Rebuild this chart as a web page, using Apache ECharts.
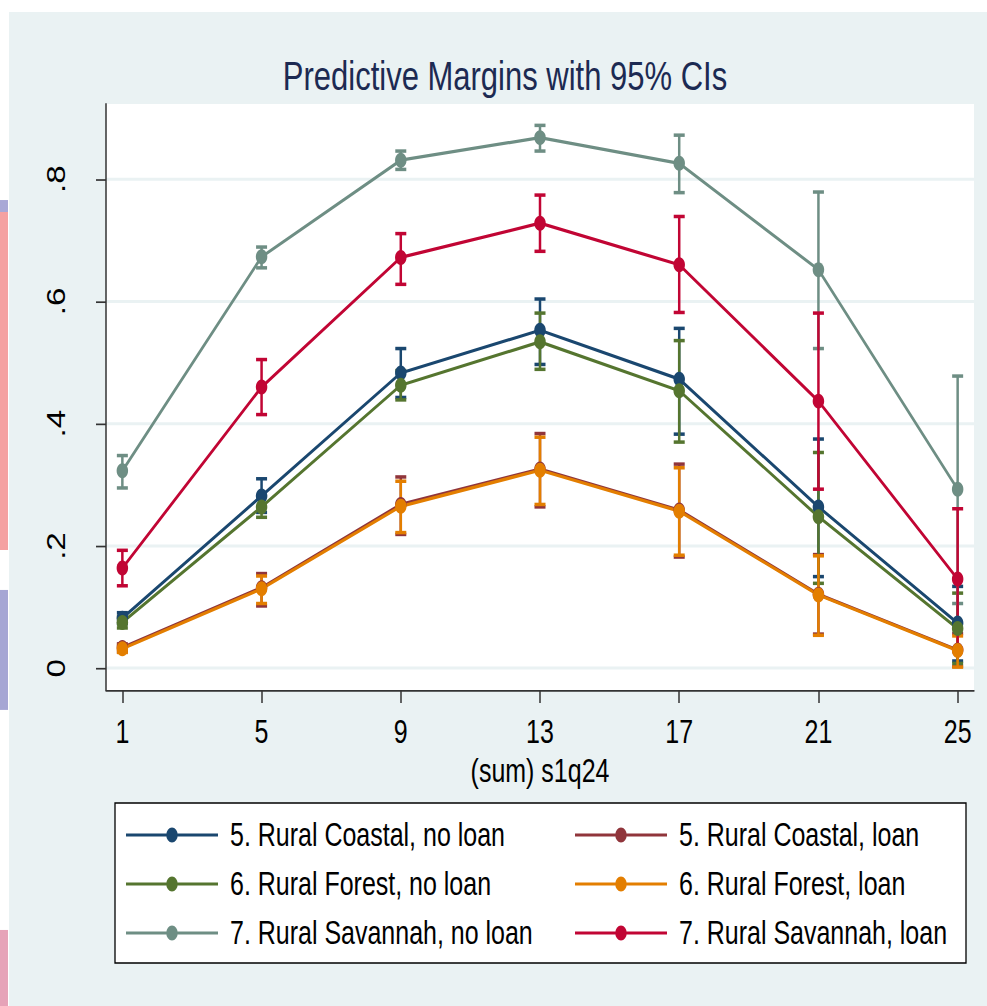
<!DOCTYPE html>
<html>
<head>
<meta charset="utf-8">
<script src="https://cdn.jsdelivr.net/npm/echarts@6/dist/echarts.min.js"></script>
<style>
html,body{margin:0;padding:0;background:#fff;overflow:hidden;}
#wrap{width:987px;height:1006px;overflow:hidden;position:relative;}
#chart{width:987px;height:774px;transform:scaleY(1.29974);transform-origin:0 0;}
</style>
</head>
<body>
<div id="wrap"><div id="chart"></div></div>
<script>
// ---- data ----
const xValues = [1, 5, 9, 13, 17, 21, 25];
const yTicks = [0, 0.2, 0.4, 0.6, 0.8];

const coastalNoLoan    = [0.082, 0.282, 0.483, 0.553, 0.473, 0.264, 0.074];
const coastalNoLoanLo  = [0.073, 0.255, 0.443, 0.497, 0.383, 0.150, 0.012];
const coastalNoLoanHi  = [0.091, 0.310, 0.523, 0.604, 0.556, 0.375, 0.134];

const coastalLoan      = [0.034, 0.132, 0.268, 0.326, 0.259, 0.121, 0.030];
const coastalLoanLo    = [0.027, 0.102, 0.219, 0.264, 0.182, 0.056, 0.003];
const coastalLoanHi    = [0.040, 0.155, 0.313, 0.384, 0.334, 0.186, 0.057];

const forestNoLoan     = [0.075, 0.264, 0.463, 0.534, 0.454, 0.248, 0.065];
const forestNoLoanLo   = [0.066, 0.247, 0.439, 0.489, 0.370, 0.139, 0.008];
const forestNoLoanHi   = [0.085, 0.281, 0.487, 0.581, 0.536, 0.353, 0.123];

const forestLoan       = [0.032, 0.130, 0.265, 0.324, 0.257, 0.120, 0.029];
const forestLoanLo     = [0.026, 0.106, 0.222, 0.268, 0.185, 0.054, 0.002];
const forestLoanHi     = [0.038, 0.151, 0.306, 0.378, 0.328, 0.184, 0.053];

const savannahNoLoan   = [0.323, 0.673, 0.831, 0.868, 0.826, 0.652, 0.293];
const savannahNoLoanLo = [0.295, 0.655, 0.816, 0.846, 0.778, 0.523, 0.106];
const savannahNoLoanHi = [0.348, 0.689, 0.846, 0.888, 0.872, 0.779, 0.478];

const savannahLoan     = [0.164, 0.460, 0.672, 0.728, 0.660, 0.437, 0.146];
const savannahLoanLo   = [0.135, 0.415, 0.628, 0.682, 0.582, 0.293, 0.032];
const savannahLoanHi   = [0.193, 0.505, 0.711, 0.774, 0.739, 0.581, 0.261];

const seriesNames = [
  '5. Rural Coastal, no loan', '5. Rural Coastal, loan',
  '6. Rural Forest, no loan', '6. Rural Forest, loan',
  '7. Rural Savannah, no loan', '7. Rural Savannah, loan'
];
const seriesColors = ['#1A476F', '#90353B', '#55752F', '#E37E00', '#6E8E84', '#C10534'];
const estimates = [coastalNoLoan, coastalLoan, forestNoLoan, forestLoan, savannahNoLoan, savannahLoan];
const lows  = [coastalNoLoanLo, coastalLoanLo, forestNoLoanLo, forestLoanLo, savannahNoLoanLo, savannahLoanLo];
const highs = [coastalNoLoanHi, coastalLoanHi, forestNoLoanHi, forestLoanHi, savannahNoLoanHi, savannahLoanHi];

const titleText = 'Predictive Margins with 95% CIs';
const xAxisTitle = '(sum) s1q24';

// ---- chart (drawn in a frame that is stretched vertically, like the Stata export) ----
const FONT = "'Liberation Sans', Arial, sans-serif";
const chart = echarts.init(document.getElementById('chart'), null, {renderer: 'svg'});

function ciSeries(i) {
  const color = seriesColors[i];
  return {
    type: 'custom',
    name: 'ci' + i,
    silent: true,
    z: 2,
    clip: false,
    data: xValues.map((x, k) => [x, lows[i][k], highs[i][k]]),
    encode: {x: 0, y: [1, 2]},
    renderItem: function (params, api) {
      const x = api.value(0);
      const top = api.coord([x, api.value(2)]);
      const bot = api.coord([x, api.value(1)]);
      const hw = 5.5;
      return {
        type: 'group',
        children: [
          {type: 'line', shape: {x1: top[0], y1: top[1], x2: bot[0], y2: bot[1]}, style: {stroke: color, lineWidth: 2.5}},
          {type: 'line', shape: {x1: top[0] - hw, y1: top[1], x2: top[0] + hw, y2: top[1]}, style: {stroke: color, lineWidth: 2.7}},
          {type: 'line', shape: {x1: bot[0] - hw, y1: bot[1], x2: bot[0] + hw, y2: bot[1]}, style: {stroke: color, lineWidth: 2.7}}
        ]
      };
    }
  };
}

function lineSeries(i) {
  return {
    type: 'line',
    name: seriesNames[i],
    z: 3,
    data: xValues.map((x, k) => [x, estimates[i][k]]),
    symbol: 'circle',
    symbolSize: [11.5, 11.5],
    itemStyle: {color: seriesColors[i], borderWidth: 0},
    lineStyle: {color: seriesColors[i], width: 2.5},
    emphasis: {disabled: true}
  };
}

const legendIcon = 'path://M0,4.85 L92,4.85 L92,7.15 L0,7.15 Z M40.25,6 A5.75,5.75 0 1,1 51.75,6 A5.75,5.75 0 1,1 40.25,6 Z';

function legendCol(names, left) {
  return {
    orient: 'vertical',
    left: left,
    top: 628.4,
    padding: 0,
    itemGap: 9.7,
    itemWidth: 92,
    itemHeight: 12,
    icon: legendIcon,
    selectedMode: false,
    z: 6,
    itemStyle: {borderWidth: 0},
    data: names,
    textStyle: {fontFamily: FONT, fontSize: 25, color: '#000', lineHeight: 28, padding: [0, 0, 0, 7]}
  };
}

const series = [];
for (let i = 0; i < 6; i++) series.push(ciSeries(i));
for (let i = 0; i < 6; i++) series.push(lineSeries(i));

chart.setOption({
  backgroundColor: '#ffffff',
  animation: false,
  title: {
    text: titleText,
    left: 500,
    top: 38,
    textAlign: 'center',
    textStyle: {fontFamily: FONT, fontSize: 31, fontWeight: 'normal', color: '#1C2A52'}
  },
  graphic: [
    {type: 'rect', z: -10, silent: true, shape: {x: 9, y: 9.23, width: 978, height: 764.77}, style: {fill: '#EAF2F3'}},
    {type: 'rect', z: -10, silent: true, shape: {x: 0, y: 153.9, width: 8, height: 9.2}, style: {fill: '#A9A8D6'}},
    {type: 'rect', z: -10, silent: true, shape: {x: 0, y: 163.1, width: 8, height: 260.1}, style: {fill: '#F5A1A1'}},
    {type: 'rect', z: -10, silent: true, shape: {x: 0, y: 453.9, width: 8, height: 92.3}, style: {fill: '#A6A6D4'}},
    {type: 'rect', z: -10, silent: true, shape: {x: 0, y: 715.5, width: 8, height: 58.5}, style: {fill: '#E6A3B8'}},
    {type: 'rect', z: 1, silent: true, shape: {x: 115, y: 617.8, width: 851, height: 123.1}, style: {fill: '#ffffff', stroke: '#000', lineWidth: 1.3}}
  ],
  legend: [
    legendCol([seriesNames[0], seriesNames[2], seriesNames[4]], 126),
    legendCol([seriesNames[1], seriesNames[3], seriesNames[5]], 575)
  ],
  grid: {
    left: 106, right: 13, top: 80.0, bottom: 243.1,
    show: true, backgroundColor: '#ffffff', borderWidth: 0
  },
  xAxis: {
    type: 'value',
    min: 0.53, max: 25.47,
    name: xAxisTitle,
    nameLocation: 'middle',
    nameGap: 45,
    nameTextStyle: {fontFamily: FONT, fontSize: 25, color: '#000'},
    axisLine: {show: true, onZero: false, lineStyle: {color: '#333', width: 1.3}},
    axisTick: {show: true, length: 10, customValues: xValues, lineStyle: {color: '#333', width: 1.5}},
    axisLabel: {customValues: xValues, margin: 19.5, fontFamily: FONT, fontSize: 25, color: '#000'},
    splitLine: {show: false}
  },
  yAxis: {
    type: 'value',
    min: -0.0355, max: 0.923,
    axisLine: {show: true, onZero: false, lineStyle: {color: '#333', width: 1.5}},
    axisTick: {show: true, length: 10, customValues: yTicks, lineStyle: {color: '#333', width: 1.3}},
    axisLabel: {
      customValues: yTicks, rotate: 90, margin: 37.5,
      fontFamily: FONT, fontSize: 25.5, color: '#000',
      formatter: function (v) { return v === 0 ? '0' : String(Math.round(v * 10) / 10).replace(/^0/, ''); }
    },
    splitLine: {show: true, lineStyle: {color: '#EAF2F3', width: 2.3}}
  },
  series: series
});
</script>
</body>
</html>
